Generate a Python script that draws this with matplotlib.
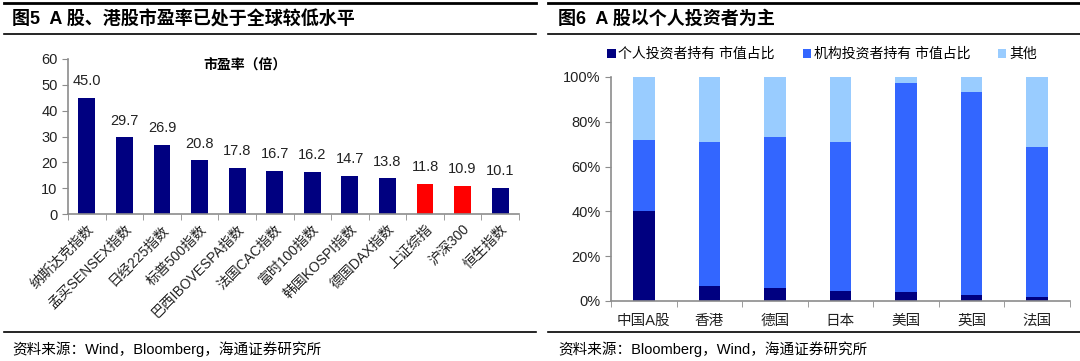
import matplotlib
matplotlib.use("Agg")
import matplotlib.pyplot as plt
from matplotlib.lines import Line2D
import numpy as np

plt.rcParams['font.family'] = ['Liberation Sans', 'Noto Sans CJK SC', 'DejaVu Sans']

# ---- data: left chart ----
pe_labels = ['纳斯达克指数', '孟买SENSEX指数', '日经225指数', '标普500指数', '巴西IBOVESPA指数',
             '法国CAC指数', '富时100指数', '韩国KOSPI指数', '德国DAX指数', '上证综指', '沪深300', '恒生指数']
pe_values = [45.0, 29.7, 26.9, 20.8, 17.8, 16.7, 16.2, 14.7, 13.8, 11.8, 10.9, 10.1]
pe_highlight = [False, False, False, False, False, False, False, False, False, True, True, False]

# ---- data: right chart ----
markets = ['中国A股', '香港', '德国', '日本', '美国', '英国', '法国']
individual = [40.0, 6.7, 5.9, 4.6, 4.0, 2.6, 1.8]
institution = [31.8, 64.5, 67.4, 66.5, 93.2, 90.6, 67.1]
other = [28.2, 28.8, 26.7, 28.9, 2.8, 6.8, 31.1]
series_names = ['个人投资者持有 市值占比', '机构投资者持有 市值占比', '其他']

W, H = 1080, 361
fig = plt.figure(figsize=(W / 100, H / 100), dpi=100)

def px(x0, y0, x1, y1):
    return [x0 / W, 1 - y1 / H, (x1 - x0) / W, (y1 - y0) / H]

def hline(x0, x1, y, lw):
    fig.add_artist(Line2D([x0 / W, x1 / W], [1 - y / H, 1 - y / H], color='black', lw=lw))

NAVY = '#000080'
RED = '#FF0000'
MID = '#3366FF'
LIGHT = '#99CCFF'
AXC = '#8c8c8c'

# ---- frame lines and titles ----
for (a, b) in [(4, 536), (548, 1080)]:
    hline(a, b, 3, 2.0)
    hline(a, b, 34, 1.2)
    hline(a, b, 332, 1.2)

fig.text(12 / W, 1 - 19 / H, '图5  A 股、港股市盈率已处于全球较低水平', fontsize=13, fontweight='bold',
         va='center', ha='left')
fig.text(558 / W, 1 - 19 / H, '图6  A 股以个人投资者为主', fontsize=13, fontweight='bold',
         va='center', ha='left')
fig.text(12 / W, 1 - 349 / H, '资料来源：Wind，Bloomberg，海通证券研究所', fontsize=10.5, va='center', ha='left')
fig.text(558 / W, 1 - 349 / H, '资料来源：Bloomberg，Wind，海通证券研究所', fontsize=10.5, va='center', ha='left')

# ---- left chart ----
ax1 = fig.add_axes(px(68, 59, 519, 214))
x = np.arange(len(pe_values))
colors = [RED if h else NAVY for h in pe_highlight]
ax1.bar(x, pe_values, width=0.45, color=colors)
for xi, v in zip(x, pe_values):
    ax1.annotate(f'{v:.1f}', (xi, v), xytext=(0, 7), textcoords='offset points',
                 ha='center', va='bottom', fontsize=10.5, color='#222222')
ax1.set_xlim(-0.5, len(pe_values) - 0.5)
ax1.set_ylim(0, 60)
ax1.set_yticks(range(0, 61, 10))
ax1.set_xticks(x)
ax1.set_xticklabels(pe_labels, rotation=45, ha='right', rotation_mode='anchor', fontsize=10,
                    color='#222222')
ax1.set_xticks(np.arange(-0.5, len(pe_values)), minor=True)
ax1.tick_params(axis='x', which='major', length=0, pad=6)
ax1.tick_params(axis='x', which='minor', length=4, color=AXC, direction='out')
ax1.tick_params(axis='y', length=4, color=AXC, labelsize=10.5, labelcolor='#222222')
for s in ['top', 'right']:
    ax1.spines[s].set_visible(False)
for s in ['left', 'bottom']:
    ax1.spines[s].set_color(AXC)
    ax1.spines[s].set_linewidth(1.2)
fig.text(245 / W, 1 - 65 / H, '市盈率（倍）', fontsize=10, fontweight='bold', ha='center', va='center')

# ---- right chart ----
ax2 = fig.add_axes(px(611, 77, 1070, 301))
xr = np.arange(len(markets))
ind = np.array(individual)
ins = np.array(institution)
oth = np.array(other)
bw = 0.33
ax2.bar(xr, ind, width=bw, color=NAVY, label=series_names[0])
ax2.bar(xr, ins, width=bw, bottom=ind, color=MID, label=series_names[1])
ax2.bar(xr, oth, width=bw, bottom=ind + ins, color=LIGHT, label=series_names[2])
ax2.set_xlim(-0.5, len(markets) - 0.5)
ax2.set_ylim(0, 100)
ax2.set_yticks(range(0, 101, 20))
ax2.set_yticklabels([f'{v}%' for v in range(0, 101, 20)])
ax2.set_xticks(xr)
ax2.set_xticklabels(markets, fontsize=10.5, color='#222222')
ax2.set_xticks(np.arange(-0.5, len(markets)), minor=True)
ax2.tick_params(axis='x', which='major', length=0, pad=9)
ax2.tick_params(axis='x', which='minor', length=4, color=AXC, direction='out')
ax2.tick_params(axis='y', length=4, color=AXC, labelsize=10.5, labelcolor='#222222')
for s in ['top', 'right']:
    ax2.spines[s].set_visible(False)
for s in ['left', 'bottom']:
    ax2.spines[s].set_color(AXC)
    ax2.spines[s].set_linewidth(1.2)
leg = ax2.legend(loc='center', bbox_to_anchor=((822 - 611) / (1070 - 611), 1 + (77 - 54) / 224),
                 ncol=3, frameon=False, fontsize=10, handlelength=0.6, handleheight=0.6,
                 handletextpad=0.2, columnspacing=2.0)

fig.savefig('out.png', dpi=100)
